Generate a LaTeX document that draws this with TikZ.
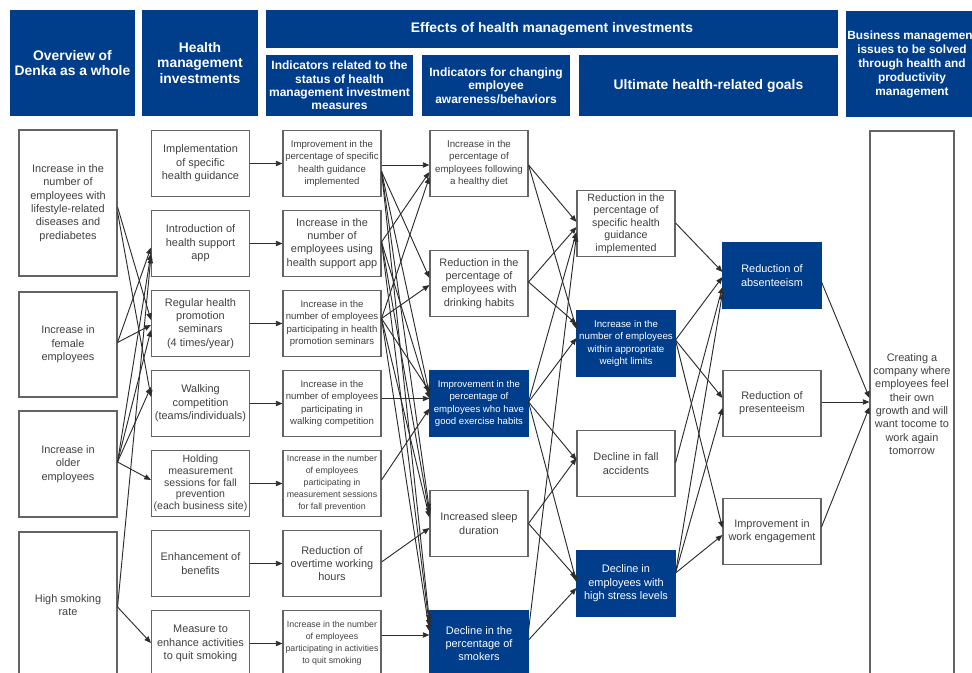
\documentclass[tikz,border=0pt]{standalone}
\usepackage{fontspec}
\setmainfont{Liberation Sans}
\usetikzlibrary{calc,arrows.meta}

\definecolor{denkablue}{RGB}{0,61,139}
\definecolor{textgray}{RGB}{64,64,64}
\definecolor{linegray}{RGB}{100,100,100}
\definecolor{arrowgray}{RGB}{45,45,45}

\newcommand{\fsz}[2]{\fontsize{#1}{#2}\selectfont}

\tikzset{
  box/.style={draw=linegray, line width=0.8pt, fill=white, text=textgray,
    minimum width=73.5pt, minimum height=49pt, inner sep=0pt, align=center,
    font=\fsz{8.2}{10}},
  bluebox/.style={box, draw=denkablue, fill=denkablue, text=white},
  smalltext/.style={font=\fsz{7.2}{9.3}},
  tinytext/.style={font=\fsz{6.6}{9}},
  head/.style={fill=denkablue, text=white, inner sep=0pt, align=center,
    font=\bfseries\fsz{10.4}{11.3}},
  subhead/.style={head, minimum height=45.75pt, font=\bfseries\fsz{9}{10}},
  link/.style={-{Triangle[length=5pt,width=4pt]}, draw=arrowgray, line width=0.7pt},
}

\begin{document}
\begin{tikzpicture}[x=0.75pt, y=-0.75pt]
\useasboundingbox (0,0) rectangle (972,673);
\clip (0,0) rectangle (972,673);
\fill[white] (0,0) rectangle (972,673);

% column headers
\node[head, minimum width=93.75pt, minimum height=79.5pt] (hoverview) at (72.5,63) {Overview of\\Denka as a whole};
\node[head, minimum width=87pt, minimum height=79.5pt] (hinvest) at (200,63) {Health\\management\\investments};
\node[head, minimum width=429pt, minimum height=28.5pt] (heffects) at (552,29) {Effects of health management investments};
\node[subhead, minimum width=110.25pt] (hstatus) at (339.5,85.5) {Indicators related to the\\status of health\\management investment\\measures};
\node[subhead, minimum width=111pt] (haware) at (496,85.5) {Indicators for changing\\employee\\awareness/behaviors};
\node[head, minimum width=194.25pt, minimum height=45.75pt] (hgoals) at (708.5,85.5) {Ultimate health-related goals};
\node[head, minimum width=99pt, minimum height=79.5pt, font=\bfseries\fsz{8.9}{10.5}] (hissues) at (912,64) {Business management\\issues to be solved\\through health and\\productivity\\management};

% overview of the company
\node[box, minimum height=109.5pt] (a1) at (68,203) {Increase in the\\number of\\employees with\\lifestyle-related\\diseases and\\prediabetes};
\node[box, minimum height=78.75pt] (a2) at (68,344.5) {Increase in\\female\\employees};
\node[box, minimum height=79.5pt] (a3) at (68,464) {Increase in\\older\\employees};
\node[box, minimum height=109.5pt] (a4) at (68,605) {High smoking\\rate};

% investments
\node[box] (b1) at (200.5,163.5) {Implementation\\of specific\\health guidance};
\node[box] (b2) at (200.5,243.5) {Introduction of\\health support\\app};
\node[box] (b3) at (200.5,323.5) {Regular health\\promotion\\seminars\\(4 times/year)};
\node[box] (b4) at (200.5,403.5) {Walking\\competition\\(teams/individuals)};
\node[box, font=\fsz{7.9}{8.8}] (b5) at (200.5,483.5) {Holding\\measurement\\sessions for fall\\prevention\\(each business site)};
\node[box] (b6) at (200.5,563.5) {Enhancement of\\benefits};
\node[box] (b7) at (200.5,643.5) {Measure to\\enhance activities\\to quit smoking};

% status indicators
\node[box, smalltext] (c1) at (332,163.5) {Improvement in the\\percentage of specific\\health guidance\\implemented};
\node[box] (c2) at (332,243.5) {Increase in the\\number of\\employees using\\health support app};
\node[box, smalltext] (c3) at (332,323.5) {Increase in the\\number of employees\\participating in health\\promotion seminars};
\node[box, smalltext] (c4) at (332,403.5) {Increase in the\\number of employees\\participating in\\walking competition};
\node[box, tinytext] (c5) at (332,483.5) {Increase in the number\\of employees\\participating in\\measurement sessions\\for fall prevention};
\node[box] (c6) at (332,563.5) {Reduction of\\overtime working\\hours};
\node[box, tinytext] (c7) at (332,643.5) {Increase in the number\\of employees\\participating in activities\\to quit smoking};

% awareness and behaviour
\node[box, font=\fsz{7.3}{9.3}] (d1) at (479,163.5) {Increase in the\\percentage of\\employees following\\a healthy diet};
\node[box] (d2) at (479,283.5) {Reduction in the\\percentage of\\employees with\\drinking habits};
\node[bluebox, smalltext] (d3) at (479,403.5) {Improvement in the\\percentage of\\employees who have\\good exercise habits};
\node[box] (d4) at (479,523.5) {Increased sleep\\duration};
\node[bluebox] (d5) at (479,643.5) {Decline in the\\percentage of\\smokers};

% health goals
\node[box, font=\fsz{8}{9.3}] (e1) at (626,223.5) {Reduction in the\\percentage of\\specific health\\guidance\\implemented};
\node[bluebox, font=\fsz{7.3}{9.3}] (e2) at (626,343.5) {Increase in the\\number of employees\\within appropriate\\weight limits};
\node[box] (e3) at (626,463.5) {Decline in fall\\accidents};
\node[bluebox] (e4) at (626,583.5) {Decline in\\employees with\\high stress levels};

\node[bluebox] (f1) at (772,275.5) {Reduction of\\absenteeism};
\node[box] (f2) at (772,403.5) {Reduction of\\presenteeism};
\node[box] (f3) at (772,531.5) {Improvement in\\work engagement};

% business issue
\node[box, minimum width=63pt, minimum height=409.5pt] (g) at (912,404) {Creating a\\company where\\employees feel\\their own\\growth and will\\want tocome to\\work again\\tomorrow};

% straight links investment -> indicator
\foreach \i in {1,...,7}
  \draw[link] (b\i.east) -- (c\i.west);

% all other links: source/offset/target/offset (offsets in px, downwards)
\foreach \s/\ds/\t/\dt in {
  a1/4/b3/-3.5, a1/9/b4/-6.5,
  a2/-2/b2/4, a2/-2/b3/1.5,
  a3/-2/b2/10, a3/-2/b3/6.5, a3/-2/b4/-16.5, a3/-2/b5/-3.5,
  a4/2/b2/13, a4/2/b7/-0.5,
  c1/1.5/d1/1.5, c1/8/d2/-5.5, c1/8/d3/-9, c1/8/d4/-13, c1/8/d5/-22,
  c2/-1.5/d1/8.5, c2/-1.5/d3/-5, c2/-1.5/d4/-9, c2/-1.5/d5/-17,
  c3/-5/d1/13.5, c3/-5/d2/1.5, c3/-5/d3/-12, c3/-5/d4/-6, c3/-5/d5/-12,
  c4/-5/d3/-5, c5/-3.5/d3/5, c6/-1.5/d4/4.5, c7/-8.5/d5/-8.5,
  d1/1.5/e1/-1.5, d1/1.5/e2/-14.5,
  d2/-1.5/e1/3.5, d2/-1.5/e2/-19.5,
  d3/-1.5/e1/8.5, d3/-1.5/e2/-5.5, d3/-1.5/e3/-3.5, d3/-1.5/e4/-1.5,
  d4/0/e3/-5.5, d4/0/e4/-5.5,
  d5/-13/e1/11.5, d5/-3.5/e4/4.5,
  e1/-0.5/f1/-3.5,
  e2/-3.5/f1/1.5, e2/-3.5/f2/-5.5, e2/-3.5/f3/-3.5,
  e3/-0.5/f1/11.5,
  e4/-10.5/f1/17.5, e4/-10.5/f2/4.5, e4/-10.5/f3/3.5,
  f1/6.5/g/-6, f2/-1.5/g/-2, f3/-4.5/g/3}
  \draw[link] ($(\s.east)+(0,\ds)$) -- ($(\t.west)+(0,\dt)$);
\end{tikzpicture}
\end{document}
